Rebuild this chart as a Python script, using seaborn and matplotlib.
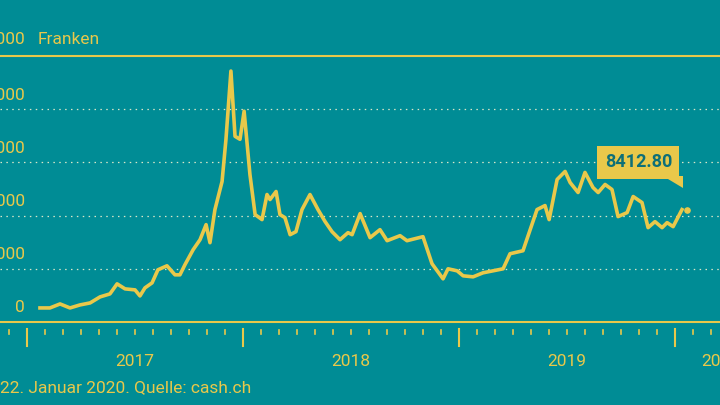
import numpy as np
import pandas as pd
import seaborn as sns
import matplotlib.pyplot as plt
import matplotlib.transforms as mtransforms
from matplotlib.patches import Polygon

# bitcoin price in CHF (decimal year, value)
years = [2017.060, 2017.106, 2017.153, 2017.199, 2017.245, 2017.292, 2017.338, 2017.384,
         2017.417, 2017.454, 2017.500, 2017.523, 2017.546, 2017.579, 2017.606, 2017.648,
         2017.685, 2017.708, 2017.731, 2017.769, 2017.801, 2017.829, 2017.847, 2017.870,
         2017.903, 2017.921, 2017.944, 2017.963, 2017.986, 2018.005, 2018.032, 2018.056,
         2018.088, 2018.111, 2018.125, 2018.153, 2018.171, 2018.194, 2018.218, 2018.245,
         2018.273, 2018.310, 2018.347, 2018.380, 2018.412, 2018.449, 2018.486, 2018.505,
         2018.542, 2018.588, 2018.634, 2018.667, 2018.727, 2018.759, 2018.833, 2018.875,
         2018.926, 2018.949, 2018.991, 2019.019, 2019.065, 2019.111, 2019.204, 2019.236,
         2019.296, 2019.361, 2019.398, 2019.417, 2019.454, 2019.491, 2019.514, 2019.551,
         2019.583, 2019.620, 2019.644, 2019.676, 2019.708, 2019.736, 2019.778, 2019.806,
         2019.847, 2019.875, 2019.907, 2019.940, 2019.963, 2019.991, 2020.032]
prices = [1057, 1057, 1358, 1057, 1283, 1434, 1887, 2113,
          2868, 2491, 2415, 1962, 2566, 2943, 3925, 4226,
          3547, 3547, 4302, 5434, 6189, 7321, 5962, 8453,
          10566, 13736, 18868, 13962, 13736, 15849, 11094, 8075,
          7698, 9585, 9207, 9811, 8075, 7849, 6566, 6792,
          8453, 9585, 8453, 7547, 6792, 6189, 6717, 6566,
          8151, 6340, 6943, 6113, 6491, 6113, 6415, 4377,
          3245, 4000, 3849, 3472, 3396, 3698, 4000, 5132,
          5358, 8453, 8755, 7698, 10717, 11321, 10491, 9736,
          11245, 10113, 9736, 10340, 9962, 7925, 8226, 9434,
          8981, 7094, 7547, 7094, 7472, 7170, 8453]
last_year = 2020.056
last_price = 8412.80
y_ticks = [0, 4000, 8000, 12000, 16000]
year_labels = ["2017", "2018", "2019", "2020"]

BG = "#008c95"
YEL = "#e9c84a"
FONT = "Roboto"

df = pd.DataFrame({"year": years, "price": prices})

fig = plt.figure(figsize=(7.2, 4.05), dpi=100, facecolor=BG)
ax = fig.add_axes([0, 83 / 405, 1, 266 / 405])
ax.set_facecolor(BG)

sns.lineplot(data=df, x="year", y="price", ax=ax, color=YEL, lw=2.6)
ax.scatter([last_year], [last_price], color=YEL, s=14, zorder=5)

x0, x1 = 2016.875, 2020.208
ax.set_xlim(x0, x1)
ax.set_ylim(0, 20000)
ax.set_xticks([])
ax.set_yticks([])
ax.set_xlabel("")
ax.set_ylabel("")
for s in ["left", "right"]:
    ax.spines[s].set_visible(False)
for s in ["top", "bottom"]:
    ax.spines[s].set_color(YEL)
    ax.spines[s].set_linewidth(1.5)

# dotted gridlines
for v in y_ticks[1:]:
    ax.axhline(v, color="#d8e6c8", lw=0.9, ls=(0, (1.2, 3.5)), zorder=1)

# y labels (cut off on the left edge, as in the original)
lab_x = x0 + 25 / 216
for v in y_ticks:
    ax.text(lab_x, v + 500, f"{v}", color=YEL, fontsize=12.5, family=FONT,
            ha="right", va="bottom")
ax.text(lab_x, 20000 + 700, "20000", color=YEL, fontsize=12.5, family=FONT,
        ha="right", va="bottom", clip_on=False)
ax.text(lab_x + 0.06, 20000 + 700, "Franken", color=YEL, fontsize=12.5, family=FONT,
        ha="left", va="bottom", clip_on=False)

# ticks below the axis: months and years
trans = mtransforms.blended_transform_factory(ax.transData, ax.transAxes)
for i, lab in enumerate(year_labels):
    start = 2017 + i
    ax.plot([start, start], [-0.025, -0.09], color=YEL, lw=1.5, transform=trans, clip_on=False)
    # the last year only shows its beginning, so its label sits at the right edge
    lx = start + 0.5 if start + 0.5 < x1 else start + 0.12
    ax.text(lx, -0.12, lab, color=YEL, fontsize=12.5, family=FONT,
            ha="left" if lx < start + 0.5 else "center", va="top", transform=trans)
    for m in range(1, 12):
        xm = start + m / 12
        ax.plot([xm, xm], [-0.03, -0.045], color=YEL, lw=1.2, transform=trans, clip_on=False)
ax.plot([2016 + 11 / 12] * 2, [-0.03, -0.045], color=YEL, lw=1.2, transform=trans, clip_on=False)

# value callout
ax.text(last_year - 0.07, 12000, f"{last_price:.2f}", color="#0d6f78", fontsize=13,
        family=FONT, fontweight="bold", ha="right", va="center",
        bbox=dict(boxstyle="square,pad=0.4", fc=YEL, ec="none"))
ax.add_patch(Polygon([[last_year - 0.11, 11000], [last_year - 0.02, 11000],
                      [last_year - 0.02, 10100]], closed=True, fc=YEL, ec="none"))

fig.text(0.0, 1 - 388 / 405, "22. Januar 2020. Quelle: cash.ch", color=YEL,
         fontsize=12.5, family=FONT, ha="left", va="center")

fig.savefig("out.png", dpi=100, facecolor=BG)
